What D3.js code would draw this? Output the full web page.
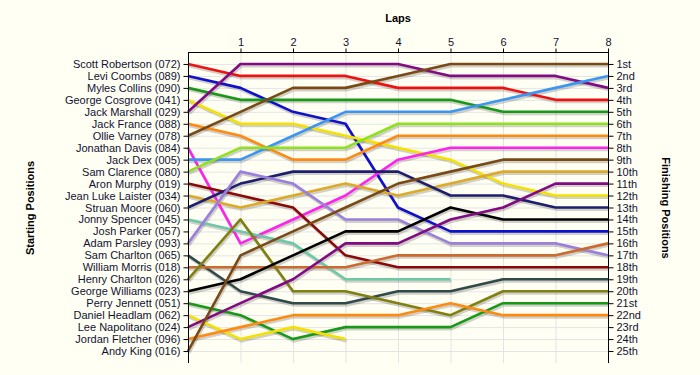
<!DOCTYPE html>
<html>
<head>
<meta charset="utf-8">
<script src="https://cdn.jsdelivr.net/npm/d3@7"></script>
<style>
  body { margin: 0; background: #fffff4; }
  svg { display: block; font-family: "Liberation Sans", Arial, sans-serif; }
</style>
</head>
<body>
<div id="chart"></div>
<script>
// lap numbers on the top axis
const laps = [1, 2, 3, 4, 5, 6, 7, 8];

// drivers in starting order
const drivers = [
  "Scott Robertson (072)", "Levi Coombs (089)", "Myles Collins (090)", "George Cosgrove (041)",
  "Jack Marshall (029)", "Jack France (088)", "Ollie Varney (078)", "Jonathan Davis (084)",
  "Jack Dex (005)", "Sam Clarence (080)", "Aron Murphy (019)", "Jean Luke Laister (034)",
  "Struan Moore (060)", "Jonny Spencer (045)", "Josh Parker (057)", "Adam Parsley (093)",
  "Sam Charlton (065)", "William Morris (018)", "Henry Charlton (026)", "George Williams (023)",
  "Perry Jennett (051)", "Daniel Headlam (062)", "Lee Napolitano (024)", "Jordan Fletcher (096)",
  "Andy King (016)"
];

// position of each driver at lap 0..8 (shorter = retired)
const positions = [
  [1, 2, 2, 2, 3, 3, 3, 4, 4],
  [2, 3, 5, 6, 13, 15, 15, 15, 15],
  [3, 4, 4, 4, 4, 4, 5, 5, 5],
  [4, 6, 6, 7, 8, 9, 11, 12, 12],
  [5, 1, 1, 1, 1, 2, 2, 2, 3],
  [6, 7, 9, 9, 7, 7, 7, 7, 7],
  [7, 5, 3, 3, 2, 1, 1, 1, 1],
  [8, 16, 14, 12, 9, 8, 8, 8, 8],
  [9, 9, 7, 5, 5, 5, 4, 3, 2],
  [10, 8, 8, 8, 6, 6, 6, 6, 6],
  [11, 12, 13, 17, 18, 18, 18, 18, 18],
  [12, 13, 12, 11, 12, 11, 10, 10, 10],
  [13, 11, 10, 10, 10, 12, 12, 13, 13],
  [14, 15, 16, 19, 19, 19],
  [15],
  [16, 10, 11, 14, 14, 16, 16, 16, 17],
  [17, 20, 21, 21, 20, 20, 19, 19, 19],
  [18, 18, 18, 18, 17, 17, 17, 17, 16],
  [19, 14, 20, 20, 21, 22, 20, 20, 20],
  [20, 19, 17, 15, 15, 13, 14, 14, 14],
  [21, 22, 24, 23, 23, 23, 21, 21, 21],
  [22, 24, 23, 24],
  [23, 21, 19, 16, 16, 14, 13, 11, 11],
  [24, 23, 22, 22, 22, 21, 22, 22, 22],
  [25, 17, 15, 13, 11, 10, 9, 9, 9]
];

// finishing position labels
const finishLabels = [
  "1st", "2nd", "3rd", "4th", "5th", "6th", "7th", "8th", "9th", "10th",
  "11th", "12th", "13th", "14th", "15th", "16th", "17th", "18th", "19th", "20th",
  "21st", "22nd", "23rd", "24th", "25th"
];

const palette = [
  "#ee1111", "#1111cc", "#179917", "#f5e100", "#820a82", "#ff8a10", "#7a4a14",
  "#ff22ee", "#3a96f0", "#8ee21a", "#8a0a0a", "#dcaa28", "#1e1e6e", "#6cc8a8",
  "#999999", "#9a80dc", "#304a4a", "#cc6a30", "#808010", "#000000",
  "#179917", "#f5e100", "#820a82", "#ff8a10", "#7a4a14"
];

const width = 700, height = 375;

const svg = d3.select("#chart").append("svg")
  .attr("width", width)
  .attr("height", height);

svg.append("rect").attr("width", width).attr("height", height).attr("fill", "#fffff4");

const x = d3.scaleLinear().domain([0, 8]).range([188, 608]);
const y = d3.scaleLinear().domain([0, 26]).range([52, 363]);

// grid
const grid = svg.append("g").attr("stroke", "#e4e4e4").attr("stroke-width", 1);
grid.selectAll("line.h")
  .data(d3.range(1, 26))
  .join("line")
  .attr("x1", x(0)).attr("x2", x(8))
  .attr("y1", d => y(d) + 0.5).attr("y2", d => y(d) + 0.5);
grid.selectAll("line.v")
  .data(laps)
  .join("line")
  .attr("x1", d => x(d) + 0.5).attr("x2", d => x(d) + 0.5)
  .attr("y1", y(0)).attr("y2", y(26));

// lines
const line = d3.line()
  .x((d, i) => x(i))
  .y(d => y(d));

const shadows = svg.append("g")
  .attr("transform", "translate(1,2)");
shadows.selectAll("path")
  .data(positions)
  .join("path")
  .attr("fill", "none")
  .attr("stroke", "#000")
  .attr("stroke-opacity", 0.18)
  .attr("stroke-width", 3)
  .attr("d", line);

svg.append("g").selectAll("path")
  .data(positions)
  .join("path")
  .attr("fill", "none")
  .attr("stroke", (d, i) => palette[i])
  .attr("stroke-width", 2.6)
  .attr("stroke-linejoin", "round")
  .attr("d", line);

// axes
const yLeft = d3.scaleOrdinal().domain(drivers).range(drivers.map((d, i) => y(i + 1)));
const yRight = d3.scaleOrdinal().domain(finishLabels).range(finishLabels.map((d, i) => y(i + 1)));

const leftAxis = svg.append("g")
  .attr("transform", `translate(${x(0) + 0.5},0)`)
  .call(d3.axisLeft(yLeft).tickSize(5).tickPadding(3));
leftAxis.select(".domain").attr("d", `M0,${y(0)}V${y(26)}`);

const rightAxis = svg.append("g")
  .attr("transform", `translate(${x(8) + 0.5},0)`)
  .call(d3.axisRight(yRight).tickSize(5).tickPadding(3));
rightAxis.select(".domain").attr("d", `M0,${y(0)}V${y(26)}`);

const topAxis = svg.append("g")
  .attr("transform", `translate(0,${y(0) + 0.5})`)
  .call(d3.axisTop(x).tickValues(laps).tickFormat(d3.format("d")).tickSize(4).tickPadding(3));
topAxis.select(".domain").attr("d", `M${x(0)},0H${x(8)}`);

svg.selectAll(".tick text")
  .attr("font-size", 11)
  .attr("font-family", "'Liberation Sans', Arial, sans-serif")
  .attr("fill", "#111133");
svg.selectAll(".domain, .tick line").attr("stroke", "#000");

// titles
svg.append("text")
  .attr("x", 398).attr("y", 22)
  .attr("text-anchor", "middle")
  .attr("font-size", 11).attr("font-weight", "bold")
  .text("Laps");

svg.append("text")
  .attr("transform", "translate(34,208) rotate(-90)")
  .attr("text-anchor", "middle")
  .attr("font-size", 11).attr("font-weight", "bold")
  .text("Starting Positions");

svg.append("text")
  .attr("transform", "translate(662,208) rotate(90)")
  .attr("text-anchor", "middle")
  .attr("font-size", 11).attr("font-weight", "bold")
  .text("Finishing Positions");
</script>
</body>
</html>
